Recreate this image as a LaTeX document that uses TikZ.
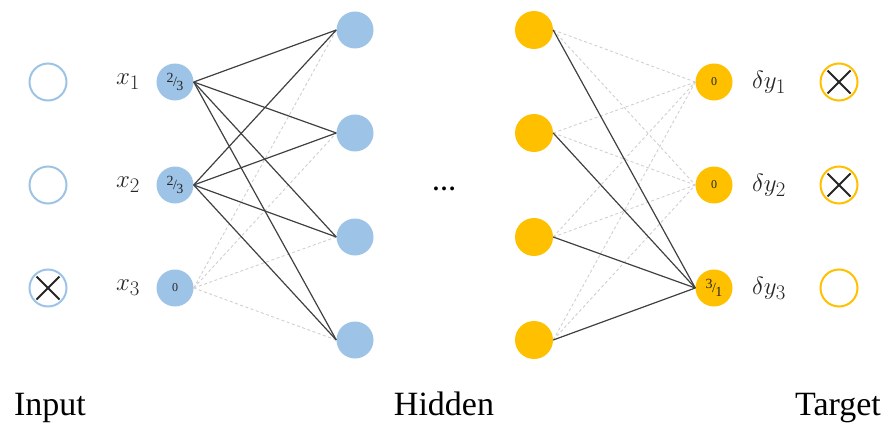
\documentclass[tikz,border=0pt]{standalone}
\usepackage{fontspec}
\setmainfont{Liberation Serif}
\usetikzlibrary{calc}
\definecolor{nblue}{HTML}{9DC3E6}
\definecolor{norange}{HTML}{FFC000}
\definecolor{edgedark}{HTML}{404040}
\definecolor{edgelight}{HTML}{CFCFCF}
\definecolor{numtxt}{HTML}{262626}
\tikzset{
  bnode/.style={circle, fill=nblue, minimum size=37pt, inner sep=0pt, text=numtxt, font=\fontsize{12}{12}\selectfont},
  onode/.style={circle, fill=norange, minimum size=38pt, inner sep=0pt, text=numtxt, font=\fontsize{12}{12}\selectfont},
  bring/.style={circle, draw=nblue, line width=2pt, minimum size=37pt, inner sep=0pt},
  oring/.style={circle, draw=norange, line width=2pt, minimum size=37pt, inner sep=0pt},
  strong/.style={draw=edgedark, line width=1.2pt},
  weak/.style={draw=edgelight, line width=0.9pt, dash pattern=on 3pt off 2.5pt},
  crossline/.style={draw=black!85, line width=1.8pt},
  mlabel/.style={font=\fontsize{28}{28}\selectfont, text=black!85},
  caption/.style={font=\fontsize{34}{34}\selectfont, anchor=base},
}
\newcommand{\frc}[2]{{\fontsize{14}{14}\selectfont\raisebox{4pt}{#1}\kern-0.5pt/\kern-0.5pt\raisebox{-4pt}{#2}}}
\newcommand{\crossin}[1]{%
  \draw[crossline] ($(#1)+(-11.5,-11.5)$) -- ($(#1)+(11.5,11.5)$);
  \draw[crossline] ($(#1)+(11.5,-11.5)$) -- ($(#1)+(-11.5,11.5)$);}
\begin{document}
\begin{tikzpicture}[x=1pt,y=-1pt]
\useasboundingbox (0,0) rectangle (886,425);
% input rings
\node[bring] (r1) at (48,82) {};
\node[bring] (r2) at (48,185) {};
\node[bring] (r3) at (48,288) {};
\crossin{r3}
% labels
\node[mlabel] (l1) at (128,82) {$x_1$};
\node[mlabel] (l2) at (128,185) {$x_2$};
\node[mlabel] (l3) at (128,288) {$x_3$};
% input nodes
\node[bnode] (i1) at (175,82) {\frc{2}{3}};
\node[bnode] (i2) at (175,185) {\frc{2}{3}};
\node[bnode] (i3) at (175,288) {0};
% hidden blue
\node[bnode] (h1) at (355,30) {};
\node[bnode] (h2) at (355,133) {};
\node[bnode] (h3) at (355,237) {};
\node[bnode] (h4) at (355,340) {};
% dots
\node[font=\fontsize{24}{24}\selectfont, anchor=base] (dots) at (444,190) {\textbf{…}};
% hidden orange
\node[onode] (g1) at (534,30) {};
\node[onode] (g2) at (534,133) {};
\node[onode] (g3) at (534,237) {};
\node[onode] (g4) at (534,340) {};
% outputs
\node[onode, minimum size=37pt] (o1) at (714,82) {0};
\node[onode, minimum size=37pt] (o2) at (714,185) {0};
\node[onode, minimum size=37pt] (o3) at (714,288) {\frc{3}{1}};
\node[mlabel] (d1) at (769,82) {$\delta y_1$};
\node[mlabel] (d2) at (769,185) {$\delta y_2$};
\node[mlabel] (d3) at (769,288) {$\delta y_3$};
% target rings
\node[oring] (t1) at (839,82) {};
\node[oring] (t2) at (839,185) {};
\node[oring] (t3) at (839,288) {};
\crossin{t1}
\crossin{t2}
% weak edges
\foreach \h in {h1,h2,h3,h4}{ \draw[weak] (i3.east) -- (\h.west); }
\foreach \g in {g1,g2,g3,g4}{
  \draw[weak] (\g.east) -- (o1.west);
  \draw[weak] (\g.east) -- (o2.west);
}
% strong edges
\foreach \i in {i1,i2}{
  \foreach \h in {h1,h2,h3,h4}{ \draw[strong] (\i.east) -- (\h.west); }
}
\foreach \g in {g1,g2,g3,g4}{ \draw[strong] (\g.east) -- (o3.west); }
% captions
\node[caption] (c1) at (50,415) {Input};
\node[caption] (c2) at (444,415) {Hidden};
\node[caption] (c3) at (838,415) {Target};
\end{tikzpicture}
\end{document}
